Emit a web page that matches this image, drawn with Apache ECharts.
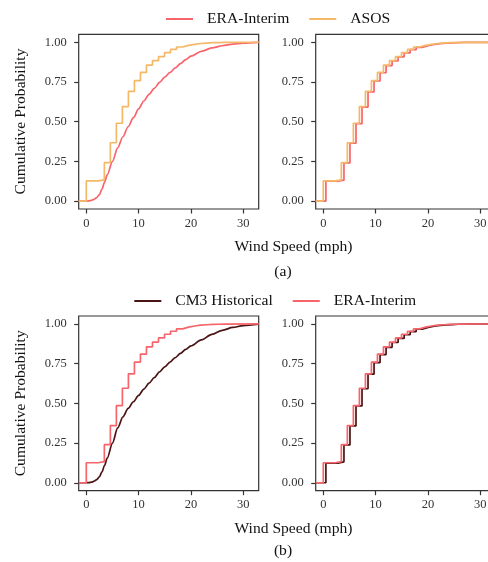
<!DOCTYPE html>
<html>
<head>
<meta charset="utf-8">
<script src="https://cdn.jsdelivr.net/npm/echarts@6/dist/echarts.min.js"></script>
<style>
html,body{margin:0;padding:0;background:#fff;}
#chart{width:488px;height:562px;}
</style>
</head>
<body>
<div id="chart"></div>
<script>
// ---- data ----
const xTicks = [0, 10, 20, 30];
const yTicks = [0, 0.25, 0.5, 0.75, 1];
const xMin = -1.45, xMax = 32.95;

// smooth CDFs
const smoothX   = [0, 0.5, 1, 1.5, 2, 2.5, 3, 3.5, 4, 5, 6, 7, 8, 9, 10, 11, 12, 13, 14, 15, 16, 17, 18, 19, 20, 22, 24, 26, 28, 30, 32.95];
const eraSmooth = [0, 0.001, 0.005, 0.011, 0.022, 0.04, 0.075, 0.12, 0.165, 0.25, 0.335, 0.405, 0.468, 0.525, 0.58, 0.63, 0.672, 0.71, 0.747, 0.78, 0.81, 0.838, 0.865, 0.89, 0.912, 0.943, 0.964, 0.978, 0.988, 0.994, 0.999];
const cm3Smooth = [0, 0.001, 0.004, 0.01, 0.02, 0.037, 0.068, 0.11, 0.155, 0.25, 0.345, 0.415, 0.468, 0.51, 0.55, 0.59, 0.627, 0.662, 0.698, 0.73, 0.76, 0.788, 0.815, 0.84, 0.862, 0.9, 0.934, 0.96, 0.978, 0.99, 0.998];

// empirical step CDFs (jump position, level after jump)
const asosStepX = [0, 2.3, 3.45, 4.6, 5.75, 6.9, 8.05, 9.2, 10.35, 11.5, 12.65, 13.8, 14.95, 16.1, 17.25, 18.4, 19.55, 20.7, 21.85, 23.0, 24.15, 25.3, 26.45];
const asosStepY = [0.127, 0.133, 0.242, 0.367, 0.49, 0.595, 0.69, 0.758, 0.81, 0.856, 0.884, 0.91, 0.935, 0.955, 0.97, 0.98, 0.987, 0.992, 0.995, 0.997, 0.998, 0.999, 1.0];

const eraCorrStepX = [0.5, 2.8, 3.95, 5.1, 6.25, 7.4, 8.55, 9.7, 10.85, 12.0, 13.15, 14.3, 15.45, 16.6, 17.75, 18.9, 20.05, 21.2, 22.35, 23.5, 24.65, 25.8, 26.95];
const eraCorrStepY = [0.125, 0.132, 0.24, 0.364, 0.487, 0.592, 0.687, 0.756, 0.808, 0.853, 0.882, 0.908, 0.933, 0.953, 0.968, 0.979, 0.986, 0.991, 0.994, 0.996, 0.998, 0.999, 1.0];

const eraStepBX = [0, 2.3, 3.45, 4.6, 5.75, 6.9, 8.05, 9.2, 10.35, 11.5, 12.65, 13.8, 14.95, 16.1, 17.25, 18.4, 19.55, 20.7, 21.85, 23.0, 24.15, 25.3, 26.45];
const eraStepBY = [0.126, 0.133, 0.24, 0.36, 0.486, 0.595, 0.686, 0.76, 0.81, 0.856, 0.886, 0.912, 0.935, 0.954, 0.969, 0.98, 0.987, 0.992, 0.995, 0.997, 0.998, 0.999, 1.0];

const cm3CorrStepX = [0.5, 2.8, 3.95, 5.1, 6.25, 7.4, 8.55, 9.7, 10.85, 12.0, 13.15, 14.3, 15.45, 16.6, 17.75, 18.9, 20.05, 21.2, 22.35, 23.5, 24.65, 25.8, 26.95];
const cm3CorrStepY = [0.124, 0.132, 0.238, 0.358, 0.484, 0.592, 0.684, 0.757, 0.807, 0.853, 0.883, 0.909, 0.932, 0.952, 0.967, 0.978, 0.986, 0.991, 0.994, 0.996, 0.998, 0.999, 1.0];

// ---- styles ----
const FONT = '"Liberation Serif","Times New Roman",serif';
const C_ERA = '#F8646C', C_ASOS = '#F4B867', C_CM3 = '#4A1414';

function stepData(xs, ys) {
  const d = [[xMin, 0]];
  xs.forEach((x, i) => d.push([x, ys[i]]));
  d.push([xMax, ys[ys.length - 1]]);
  return d;
}
function smoothData(xs, ys) {
  const d = [[xMin, 0]];
  xs.forEach((x, i) => d.push([x, ys[i]]));
  return d;
}

const grids = [
  {left: 78.7, top: 34.3, width: 180, height: 174.7},
  {left: 315.7, top: 34.3, width: 180, height: 174.7},
  {left: 78.7, top: 316, width: 180, height: 174.7},
  {left: 315.7, top: 316, width: 180, height: 174.7}
].map(g => Object.assign({show: true, borderColor: '#333', borderWidth: 1.2, backgroundColor: '#fff',
  containLabel: false, outerBoundsMode: 'none'}, g));

function xAx(i) {
  return {
    type: 'value', gridIndex: i, min: xMin, max: xMax, position: 'bottom',
    axisLine: {show: false, onZero: false},
    splitLine: {show: false},
    axisTick: {show: true, inside: false, length: 4.5, lineStyle: {color: '#333', width: 1.2}, customValues: xTicks},
    axisLabel: {show: true, customValues: xTicks, margin: 8, fontFamily: FONT, fontSize: 12.5, color: '#333', hideOverlap: false}
  };
}
function yAx(i) {
  return {
    type: 'value', gridIndex: i, min: -0.05, max: 1.05, position: 'left',
    axisLine: {show: false, onZero: false},
    splitLine: {show: false},
    axisTick: {show: true, inside: false, length: 4.5, lineStyle: {color: '#333', width: 1.2}, customValues: yTicks},
    axisLabel: {show: true, customValues: yTicks, margin: 12, fontFamily: FONT, fontSize: 12.5, color: '#333',
      formatter: v => v.toFixed(2)}
  };
}

function line(name, color, data, idx, opts) {
  return Object.assign({
    name: name, type: 'line', xAxisIndex: idx, yAxisIndex: idx,
    data: data, symbol: 'none', showSymbol: false, clip: true,
    lineStyle: {color: color, width: 1.7}, itemStyle: {color: color},
    emphasis: {disabled: true}, animation: false
  }, opts || {});
}

const legendBase = {
  icon: 'rect', itemWidth: 27, itemHeight: 2, itemGap: 20, selectedMode: false,
  textStyle: {fontFamily: FONT, fontSize: 15.6, color: '#111', padding: [0, 0, 0, 9]}
};

const option = {
  animation: false,
  backgroundColor: '#fff',
  grid: grids,
  xAxis: [xAx(0), xAx(1), xAx(2), xAx(3)],
  yAxis: [yAx(0), yAx(1), yAx(2), yAx(3)],
  legend: [
    Object.assign({}, legendBase, {data: ['ERA-Interim', 'ASOS'], left: 161, top: 6}),
    Object.assign({}, legendBase, {data: ['CM3 Historical', 'ERA-Interim'], left: 129.3, top: 288})
  ],
  series: [
    line('ERA-Interim', C_ERA, smoothData(smoothX, eraSmooth), 0, {smooth: 0.3, smoothMonotone: 'x'}),
    line('ASOS', C_ASOS, stepData(asosStepX, asosStepY), 0, {step: 'end'}),
    line('ERA-Interim', C_ERA, stepData(eraCorrStepX, eraCorrStepY), 1, {step: 'end'}),
    line('ASOS', C_ASOS, stepData(asosStepX, asosStepY), 1, {step: 'end'}),
    line('CM3 Historical', C_CM3, smoothData(smoothX, cm3Smooth), 2, {smooth: 0.3, smoothMonotone: 'x'}),
    line('ERA-Interim', C_ERA, stepData(eraStepBX, eraStepBY), 2, {step: 'end'}),
    line('CM3 Historical', C_CM3, stepData(cm3CorrStepX, cm3CorrStepY), 3, {step: 'end'}),
    line('ERA-Interim', C_ERA, stepData(eraStepBX, eraStepBY), 3, {step: 'end'})
  ],
  graphic: [
    {type: 'text', x: 21, y: 121.5, rotation: Math.PI / 2,
     style: {text: 'Cumulative Probability', font: '15.6px ' + FONT, fill: '#111', align: 'center', verticalAlign: 'middle'}},
    {type: 'text', x: 21, y: 403.3, rotation: Math.PI / 2,
     style: {text: 'Cumulative Probability', font: '15.6px ' + FONT, fill: '#111', align: 'center', verticalAlign: 'middle'}},
    {type: 'text', x: 293.5, y: 247, style: {text: 'Wind Speed (mph)', font: '15.6px ' + FONT, fill: '#111', align: 'center', verticalAlign: 'middle'}},
    {type: 'text', x: 283, y: 272, style: {text: '(a)', font: '15.6px ' + FONT, fill: '#111', align: 'center', verticalAlign: 'middle'}},
    {type: 'text', x: 293.5, y: 528.5, style: {text: 'Wind Speed (mph)', font: '15.6px ' + FONT, fill: '#111', align: 'center', verticalAlign: 'middle'}},
    {type: 'text', x: 283, y: 551, style: {text: '(b)', font: '15.6px ' + FONT, fill: '#111', align: 'center', verticalAlign: 'middle'}}
  ]
};

const chart = echarts.init(document.getElementById('chart'), null, {renderer: 'canvas'});
chart.setOption(option);
</script>
</body>
</html>
